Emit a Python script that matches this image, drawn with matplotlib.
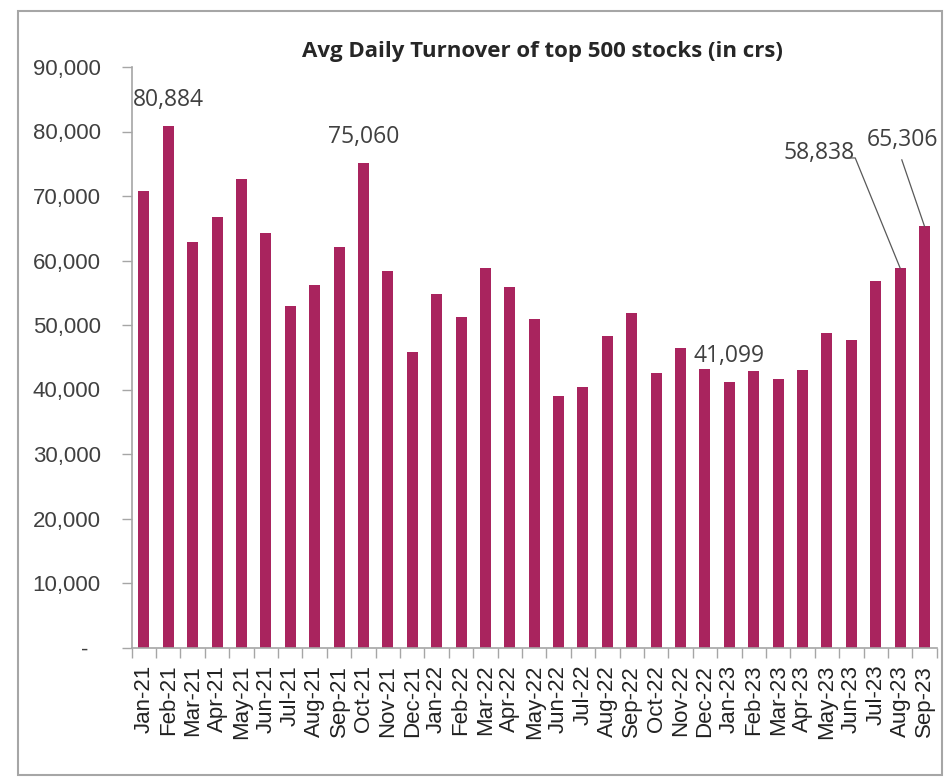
import numpy as np
import matplotlib.pyplot as plt
from matplotlib.patches import Rectangle
from matplotlib.ticker import FuncFormatter

months = ['Jan-21', 'Feb-21', 'Mar-21', 'Apr-21', 'May-21', 'Jun-21',
          'Jul-21', 'Aug-21', 'Sep-21', 'Oct-21', 'Nov-21', 'Dec-21',
          'Jan-22', 'Feb-22', 'Mar-22', 'Apr-22', 'May-22', 'Jun-22',
          'Jul-22', 'Aug-22', 'Sep-22', 'Oct-22', 'Nov-22', 'Dec-22',
          'Jan-23', 'Feb-23', 'Mar-23', 'Apr-23', 'May-23', 'Jun-23',
          'Jul-23', 'Aug-23', 'Sep-23']
turnover = [70700, 80884, 62900, 66800, 72600, 64300,
            53000, 56200, 62100, 75060, 58300, 45800,
            54800, 51200, 58900, 55900, 50900, 39000,
            40400, 48300, 51900, 42600, 46500, 43200,
            41099, 42800, 41600, 43000, 48700, 47600,
            56800, 58838, 65306]

# labels sitting straight above their bar
top_labels = ['Feb-21', 'Oct-21', 'Jan-23']
# labels pulled aside with a leader line: (month, text x, text y)
leader_labels = [('Aug-23', 27.67, 76700), ('Sep-23', 31.1, 78700)]

bar_color = '#A9245E'
axis_grey = '#A6A6A6'
text_grey = '#404040'

fig = plt.figure(figsize=(9.46, 7.79), dpi=100)
ax = fig.add_axes([131.7/946, 1-647.5/779, (936.7-131.7)/946, (647.5-67)/779])

x = np.arange(len(months))
ax.bar(x, turnover, width=0.45, color=bar_color, zorder=2)

ax.set_xlim(-0.5, len(months) - 0.5)
ax.set_ylim(0, 90000)
ax.set_yticks(np.arange(0, 90001, 10000))
ax.yaxis.set_major_formatter(FuncFormatter(lambda v, p: f'{v:,.0f}' if v else '-  '))

ax.set_xticks(x)
ax.set_xticklabels(months, rotation=90)
ax.set_xticks(np.arange(-0.5, len(months)), minor=True)
ax.tick_params(axis='x', which='major', length=0, pad=12.5,
               labelsize=16, labelcolor='#222222')
ax.tick_params(axis='x', which='minor', length=7.2, width=1, color=axis_grey)
ax.tick_params(axis='y', length=7.2, width=1, color=axis_grey, pad=15,
               labelsize=16, labelcolor=text_grey)
for lab in ax.get_xticklabels() + ax.get_yticklabels():
    lab.set_family('Liberation Sans')

for side in ['top', 'right']:
    ax.spines[side].set_visible(False)
for side in ['left', 'bottom']:
    ax.spines[side].set_color(axis_grey)
    ax.spines[side].set_linewidth(1.2)

for m in top_labels:
    i = months.index(m)
    ax.annotate(f'{turnover[i]:,}', (i, turnover[i]), xytext=(0, 26),
                textcoords='offset pixels', ha='center', va='center',
                fontsize=16.5, family='Open Sans', color=text_grey)

for m, tx, ty in leader_labels:
    i = months.index(m)
    ax.text(tx, ty, f'{turnover[i]:,}', ha='center', va='center',
            fontsize=16.5, family='Open Sans', color=text_grey)

# leader lines from the pulled labels down to their bars
i = months.index('Aug-23')
ax.plot([28.85, 29.16, i], [75900, 75900, turnover[i]],
        color='#595959', lw=0.9, clip_on=False, zorder=3)
i = months.index('Sep-23')
ax.plot([31.07, i], [75600, turnover[i]],
        color='#595959', lw=0.9, clip_on=False, zorder=3)

fig.text(542/946, 1-52/779, 'Avg Daily Turnover of top 500 stocks (in crs)',
         ha='center', va='center', fontsize=16, fontweight='bold',
         family='Open Sans', color='#262626')

fig.patches.append(Rectangle((18/946, 4/779), (942-18)/946, (775-11)/779,
                             transform=fig.transFigure, fill=False,
                             ec=axis_grey, lw=1.5))

fig.savefig('out.png', dpi=100)
